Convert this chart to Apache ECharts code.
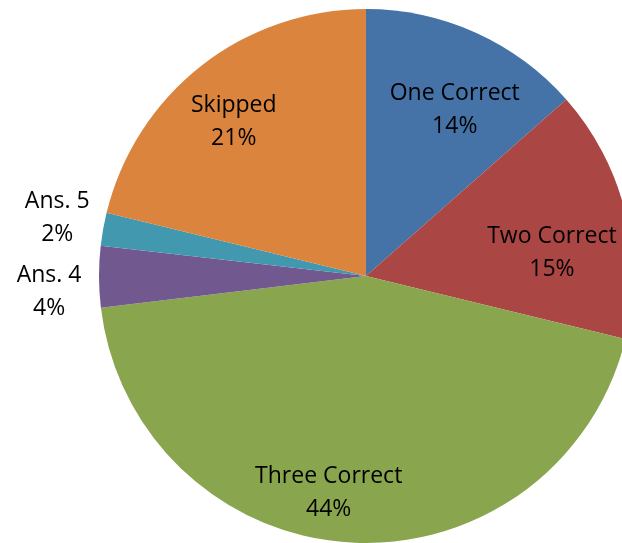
<!DOCTYPE html>
<html>
<head>
<meta charset="utf-8">
<script src="https://cdn.jsdelivr.net/npm/echarts@6/dist/echarts.min.js"></script>
<style>
  html, body { margin: 0; padding: 0; background: #fff; }
  #chart { width: 622px; height: 543px; }
</style>
</head>
<body>
<div id="chart"></div>
<script>
  // slice names and shares
  var categories = ['One Correct', 'Two Correct', 'Three Correct', 'Ans. 4', 'Ans. 5', 'Skipped'];
  var shares = [13.5, 15.3, 44.3, 3.7, 2.0, 21.2];
  var colors = ['#4572A7', '#AA4643', '#89A54E', '#71588F', '#4198AF', '#DB843D'];
  // nudges so labels sit where Excel put them
  var labelOffsets = [[4, 22], [-14, 26], [-25, 11], [-111, 15], [-106, -22], [-5, 8]];

  var center = [366, 276];
  var radius = 267;

  var chart = echarts.init(document.getElementById('chart'));

  var pieData = categories.map(function (name, i) {
    return { name: name, value: shares[i], itemStyle: { color: colors[i] } };
  });

  // second transparent series only carries the labels, so they sit further out
  var labelData = categories.map(function (name, i) {
    return {
      name: name,
      value: shares[i],
      itemStyle: { color: 'rgba(0,0,0,0)' },
      label: { offset: labelOffsets[i] }
    };
  });

  chart.setOption({
    animation: false,
    series: [
      {
        type: 'pie',
        center: center,
        radius: [0, radius],
        startAngle: 90,
        clockwise: true,
        silent: true,
        label: { show: false },
        labelLine: { show: false },
        data: pieData
      },
      {
        type: 'pie',
        center: center,
        radius: [radius * 0.52, radius],
        startAngle: 90,
        clockwise: true,
        silent: true,
        percentPrecision: 0,
        label: {
          show: true,
          position: 'inside',
          formatter: '{b}\n{d}%',
          color: '#000',
          fontFamily: 'Open Sans',
          fontSize: 23,
          lineHeight: 33,
          align: 'center'
        },
        labelLine: { show: false },
        data: labelData
      }
    ]
  });
</script>
</body>
</html>
